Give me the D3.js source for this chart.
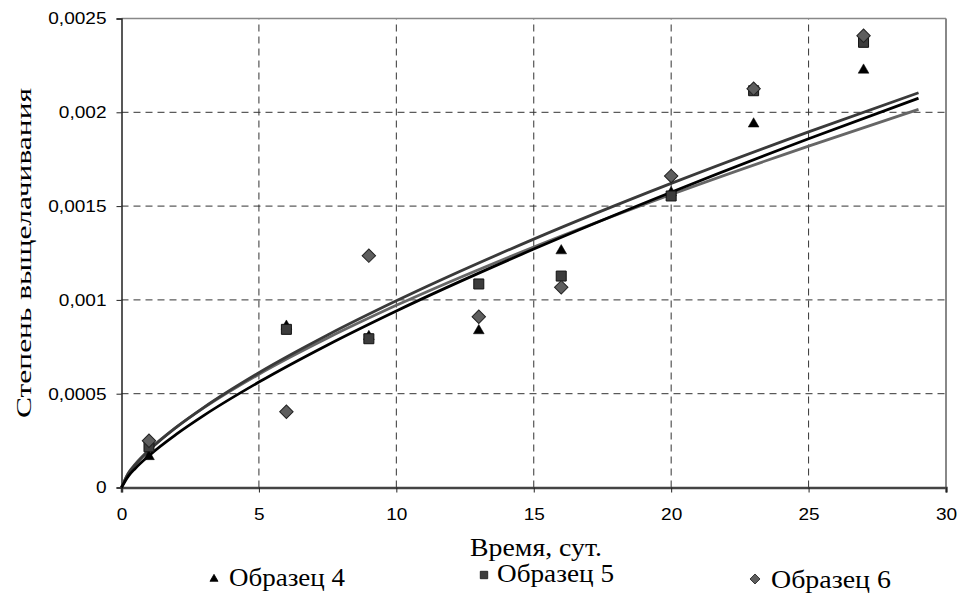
<!DOCTYPE html>
<html>
<head>
<meta charset="utf-8">
<script src="https://cdn.jsdelivr.net/npm/d3@7"></script>
<style>
  html, body { margin: 0; padding: 0; background: #fff; }
  svg { display: block; }
</style>
</head>
<body>
<svg id="chart" width="958" height="597"></svg>
<script>
// measured samples (time in days, leaching degree)
const days = [1, 6, 9, 13, 16, 20, 23, 27];
const sample4 = [0.000165, 0.00086, 0.000805, 0.000836, 0.001262, 0.001572, 0.001938, 0.002225];
const sample5 = [0.000217, 0.000843, 0.000793, 0.001085, 0.001127, 0.001554, 0.002115, 0.002373];
const sample6 = [0.000249, 0.000404, 0.001236, 0.00091, 0.001067, 0.00166, 0.002126, 0.002408];

// trend lines at these x positions
const trendX = [0, 0.25, 0.5, 1, 2, 3, 5, 7.5, 10, 15, 20, 25, 29];
const trendTop = [0, 0.0000746, 0.0001214, 0.0001975, 0.0003215, 0.0004274, 0.000612, 0.000813, 0.000995, 0.001324, 0.001621, 0.001896, 0.002104];
const trendBlack = [0, 0.0000607, 0.0001016, 0.00017, 0.0002845, 0.0003846, 0.000562, 0.00076, 0.000941, 0.001271, 0.001574, 0.001859, 0.002075];
const trendGray = [0, 0.0000774, 0.0001245, 0.0002003, 0.000322, 0.0004254, 0.000604, 0.000797, 0.000971, 0.001282, 0.001562, 0.00182, 0.002016];

const xTicks = [0, 5, 10, 15, 20, 25, 30];
const yTicks = [0, 0.0005, 0.001, 0.0015, 0.002, 0.0025];
const legendLabels = ["Образец 4", "Образец 5", "Образец 6"];

const svg = d3.select("#chart");
const margin = { top: 18.5, right: 12, bottom: 109.5, left: 121.5 };
const W = 958, H = 597;

const x = d3.scaleLinear().domain([0, 30]).range([margin.left, W - margin.right]);
const y = d3.scaleLinear().domain([0, 0.0025]).range([H - margin.bottom, margin.top]);

const fmtY = v => v === 0 ? "0" : String(+v.toPrecision(2)).replace(".", ",");

// grid
const grid = svg.append("g");
grid.selectAll("line.gx")
  .data(xTicks.filter(t => t > 0 && t < 30))
  .enter().append("line")
  .attr("x1", d => x(d)).attr("x2", d => x(d))
  .attr("y1", y(0)).attr("y2", y(0.0025))
  .attr("stroke", "#333").attr("stroke-width", 1)
  .attr("stroke-dasharray", "7,5");
grid.selectAll("line.gy")
  .data(yTicks.filter(t => t > 0 && t < 0.0025))
  .enter().append("line")
  .attr("x1", x(0)).attr("x2", x(30))
  .attr("y1", d => y(d)).attr("y2", d => y(d))
  .attr("stroke", "#333").attr("stroke-width", 1)
  .attr("stroke-dasharray", "7,5");

// frame: top and right in gray
svg.append("line")
  .attr("x1", x(0)).attr("x2", x(30)).attr("y1", y(0.0025)).attr("y2", y(0.0025))
  .attr("stroke", "#888").attr("stroke-width", 1.5);
svg.append("line")
  .attr("x1", x(30)).attr("x2", x(30)).attr("y1", y(0.0025)).attr("y2", y(0))
  .attr("stroke", "#888").attr("stroke-width", 2);

// axes
const xAxis = svg.append("g")
  .attr("transform", `translate(0,${y(0)})`)
  .call(d3.axisBottom(x).tickValues(xTicks).tickSize(5).tickPadding(15).tickFormat(d3.format("d")));
const yAxis = svg.append("g")
  .attr("transform", `translate(${x(0)},0)`)
  .call(d3.axisLeft(y).tickValues(yTicks).tickSize(5).tickPadding(10).tickFormat(fmtY));

xAxis.select(".domain").attr("stroke", "#444").attr("stroke-width", 2.5);
yAxis.select(".domain").attr("stroke", "#222").attr("stroke-width", 1.5);
svg.selectAll(".tick line").attr("stroke", "#222");
svg.selectAll(".tick text")
  .attr("font-family", "'Liberation Sans', Arial, sans-serif")
  .attr("font-size", 17)
  .attr("fill", "#000");
// the picture is slightly stretched sideways
svg.selectAll(".tick text").each(function () {
  const len = this.getComputedTextLength();
  d3.select(this).attr("textLength", len * 1.12).attr("lengthAdjust", "spacingAndGlyphs");
});

// trend lines
const line = d3.line()
  .x(d => x(d[0]))
  .y(d => y(d[1]))
  .curve(d3.curveMonotoneX);

const trends = [
  { vals: trendGray, color: "#666" },
  { vals: trendTop, color: "#3a3a3a" },
  { vals: trendBlack, color: "#000" }
];
svg.append("g").selectAll("path")
  .data(trends)
  .enter().append("path")
  .attr("fill", "none")
  .attr("stroke", d => d.color)
  .attr("stroke-width", 2.8)
  .attr("d", d => line(trendX.map((t, i) => [t, d.vals[i]])));

// markers
const tri = d3.symbol().type(d3.symbolTriangle).size(50);
const sq = d3.symbol().type(d3.symbolSquare).size(100);
const dia = d3.symbol().type(d3.symbolSquare).size(90);

const series = [
  { vals: sample4, sym: tri, rot: 0, fill: "#000", stroke: "#000", sw: 0.5 },
  { vals: sample5, sym: sq, rot: 0, fill: "#3c3c3c", stroke: "#111", sw: 1 },
  { vals: sample6, sym: dia, rot: 45, fill: "#5e5e5e", stroke: "#222", sw: 1 }
];

series.forEach(s => {
  svg.append("g").selectAll("path")
    .data(days.map((d, i) => [d, s.vals[i]]))
    .enter().append("path")
    .attr("transform", d => `translate(${x(d[0])},${y(d[1])}) rotate(${s.rot})`)
    .attr("d", s.sym)
    .attr("fill", s.fill)
    .attr("stroke", s.stroke)
    .attr("stroke-width", s.sw);
});

// axis titles
const serif = "'Liberation Serif', 'Times New Roman', serif";
svg.append("text")
  .attr("x", 536).attr("y", 556)
  .attr("text-anchor", "middle")
  .attr("font-family", serif).attr("font-size", 26)
  .attr("textLength", 132).attr("lengthAdjust", "spacingAndGlyphs")
  .text("Время, сут.");

svg.append("text")
  .attr("transform", "translate(31,253) rotate(-90)")
  .attr("text-anchor", "middle")
  .attr("font-family", serif).attr("font-size", 22)
  .attr("textLength", 330).attr("lengthAdjust", "spacingAndGlyphs")
  .text("Степень выщелачивания");

// legend
const legendPos = [
  { mx: 214, my: 579, tx: 229, ty: 586, w: 116 },
  { mx: 484, my: 575, tx: 497, ty: 582, w: 117 },
  { mx: 755, my: 579, tx: 771, ty: 588, w: 120 }
];
const legendSyms = [
  { sym: d3.symbol().type(d3.symbolTriangle).size(28), rot: 0, fill: "#000", stroke: "#000" },
  { sym: d3.symbol().type(d3.symbolSquare).size(55), rot: 0, fill: "#3c3c3c", stroke: "#111" },
  { sym: d3.symbol().type(d3.symbolSquare).size(50), rot: 45, fill: "#5e5e5e", stroke: "#222" }
];
const legend = svg.append("g");
legendLabels.forEach((lab, i) => {
  const p = legendPos[i], s = legendSyms[i];
  legend.append("path")
    .attr("transform", `translate(${p.mx},${p.my}) rotate(${s.rot})`)
    .attr("d", s.sym)
    .attr("fill", s.fill).attr("stroke", s.stroke).attr("stroke-width", 0.8);
  legend.append("text")
    .attr("x", p.tx).attr("y", p.ty)
    .attr("font-family", serif).attr("font-size", 26)
    .attr("textLength", p.w).attr("lengthAdjust", "spacingAndGlyphs")
    .text(lab);
});
</script>
</body>
</html>
